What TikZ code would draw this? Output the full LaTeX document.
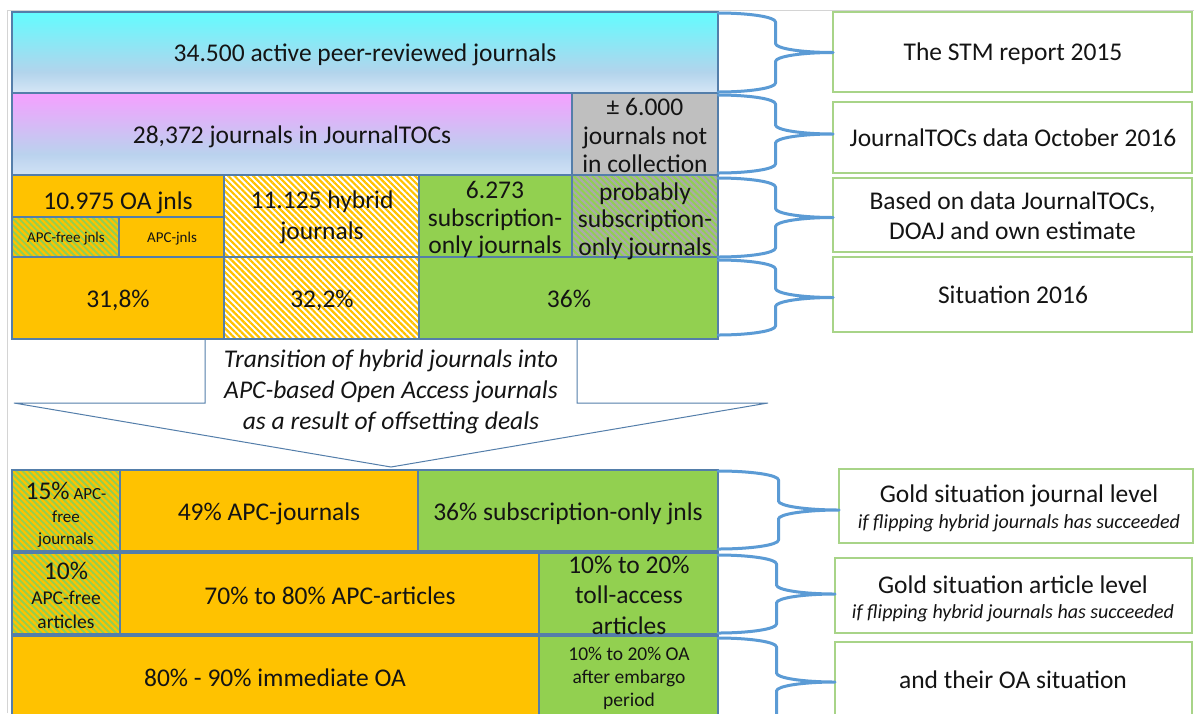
\documentclass[tikz,border=0pt]{standalone}
\usepackage{fontspec}
\setmainfont{Carlito}
\usetikzlibrary{patterns.meta,calc}

\definecolor{gold}{RGB}{255,194,0}
\definecolor{grn}{RGB}{146,208,80}
\definecolor{gry}{RGB}{191,191,191}
\definecolor{stripgry}{RGB}{170,170,170}
\definecolor{cellb}{RGB}{84,126,170}
\definecolor{brcol}{RGB}{91,155,213}
\definecolor{boxb}{RGB}{168,212,136}
\definecolor{frm}{RGB}{212,212,212}
\definecolor{txt}{RGB}{20,20,20}
\definecolor{cyanT}{RGB}{99,252,255}
\definecolor{cyanM}{RGB}{178,212,236}
\definecolor{cyanB}{RGB}{214,230,246}
\definecolor{pinkT}{RGB}{245,160,255}
\definecolor{pinkM}{RGB}{186,210,238}
\definecolor{pinkB}{RGB}{208,226,245}

\pgfdeclareverticalshading{cyanshade}{100bp}{color(0bp)=(cyanB); color(25bp)=(cyanB); color(38bp)=(cyanM); color(75bp)=(cyanT); color(100bp)=(cyanT)}
\pgfdeclareverticalshading{pinkshade}{100bp}{color(0bp)=(pinkB); color(25bp)=(pinkB); color(38bp)=(pinkM); color(75bp)=(pinkT); color(100bp)=(pinkT)}

\tikzset{
  cell/.style={draw=cellb, line width=1.1pt, inner sep=0pt, outer sep=0pt, anchor=north west},
  tbox/.style={draw=boxb, line width=1.5pt, fill=white, inner sep=0pt, outer sep=0pt, anchor=north west},
  lbl/.style={text=txt, inner sep=0pt, outer sep=0pt, align=center, font=\fontsize{25.5}{28.5}\selectfont},
  one/.style={text height=16.4pt, text depth=0pt},
  onesm/.style={text height=9.7pt, text depth=0pt},
  brc/.style={draw=brcol, line width=3pt, line cap=round, line join=round},
  hatch/.style 2 args={preaction={fill=#1}, pattern={Lines[angle=-45,distance=4.4pt,line width=2.2pt]}, pattern color=#2},
  callout/.style={draw=cellb, line width=1pt, fill=white, line join=miter},
}

% right brace from top point #1 to bottom point #2, tip touching #3
\newcommand{\rbr}[3]{%
  \draw[brc] let \p1=(#1), \p2=(#2), \p3=(#3), \n1={(\x3-\x1)/2}, \n2={(\y1+\y2)/2}, \n3={9pt} in
    (\x1,\y1) .. controls (\x1+0.552*\n1,\y1) and (\x1+\n1,\y1-0.448*\n3) .. (\x1+\n1,\y1-\n3)
    -- (\x1+\n1,\n2+\n3) .. controls (\x1+\n1,\n2+0.448*\n3) and (\x1+1.448*\n1,\n2) .. (\x3,\n2)
    .. controls (\x1+1.448*\n1,\n2) and (\x1+\n1,\n2-0.448*\n3) .. (\x1+\n1,\n2-\n3)
    -- (\x1+\n1,\y2+\n3) .. controls (\x1+\n1,\y2+0.448*\n3) and (\x1+0.552*\n1,\y2) .. (\x1,\y2);}

\begin{document}
\begin{tikzpicture}[x=1pt,y=-1pt]
\useasboundingbox (0,0) rectangle (1194,713);
\fill[white] (0,0) rectangle (1194,713);
\clip (0,0) rectangle (1194,713);

% slide frame
\draw[frm, line width=1pt] (7,713) -- (7,10.5) -- (1194,10.5);

% transition callout (drawn below the rows)
\draw[callout] (205,339) -- (577,339) -- (577,403) -- (768,403) -- (391,467) -- (14,403) -- (205,403) -- cycle;
\node[lbl, font=\itshape\fontsize{25.5}{31}\selectfont] (trans) at (391,391.5)
  {Transition of hybrid journals into\\APC-based Open Access journals\\as a result of offsetting deals};

% ---------- upper block ----------
\node[cell, shading=cyanshade, minimum width=706pt, minimum height=81pt] (t1) at (12,12) {};
\node[cell, shading=pinkshade, minimum width=560pt, minimum height=82pt] (t2a) at (12,93) {};
\node[cell, fill=gry, minimum width=146pt, minimum height=82pt] (t2b) at (572,93) {};

\node[cell, fill=gold, minimum width=212pt, minimum height=42pt] (oa) at (12,175) {};
\node[cell, hatch={grn}{gold}, minimum width=107pt, minimum height=40pt] (apcfree) at (12,217) {};
\node[cell, fill=gold, minimum width=105pt, minimum height=40pt] (apcj) at (119,217) {};
\node[cell, hatch={white}{gold}, minimum width=195pt, minimum height=82pt] (hyb) at (224,175) {};
\node[cell, fill=grn, minimum width=153pt, minimum height=82pt] (sub) at (419,175) {};
\node[cell, hatch={grn}{stripgry}, minimum width=146pt, minimum height=82pt] (prob) at (572,175) {};

\node[cell, fill=gold, minimum width=212pt, minimum height=82pt] (p1) at (12,257) {};
\node[cell, hatch={white}{gold}, minimum width=195pt, minimum height=82pt] (p2) at (224,257) {};
\node[cell, fill=grn, minimum width=299pt, minimum height=82pt] (p3) at (419,257) {};

\node[lbl, one] (t1l) at (365,53) {34.500 active peer-reviewed journals};
\node[lbl, one] (t2al) at (292,135) {28,372 journals in JournalTOCs};
\node[lbl] (t2bl) at (645,135.5) {± 6.000\\journals not\\in collection};
\node[lbl, one] (oal) at (118,201) {10.975 OA jnls};
\node[lbl, onesm, font=\fontsize{15}{18}\selectfont] (apcfreel) at (66,237.5) {APC-free jnls};
\node[lbl, onesm, font=\fontsize{15}{18}\selectfont] (apcjl) at (172,237.5) {APC-jnls};
\node[lbl, font=\fontsize{25.5}{31}\selectfont] (hybl) at (322,217.5) {11.125 hybrid\\journals};
\node[lbl, font=\fontsize{25.5}{27.5}\selectfont] (subl) at (495,220) {6.273\\subscription-\\only journals};
\node[lbl, font=\fontsize{25.5}{27.5}\selectfont] (probl) at (645,221) {probably\\subscription-\\only journals};
\node[lbl, one] (p1l) at (118,299.5) {31,8\%};
\node[lbl, one] (p2l) at (322,299.5) {32,2\%};
\node[lbl, one] (p3l) at (569,299.5) {36\%};

% ---------- lower block ----------
\node[cell, hatch={grn}{gold}, minimum width=108pt, minimum height=81pt] (b15) at (12,470) {};
\node[cell, fill=gold, minimum width=298pt, minimum height=81pt] (b49) at (120,470) {};
\node[cell, fill=grn, minimum width=300pt, minimum height=81pt] (b36) at (418,470) {};

\node[cell, hatch={grn}{gold}, minimum width=108pt, minimum height=81pt] (c10) at (12,553) {};
\node[cell, fill=gold, minimum width=419pt, minimum height=81pt] (c70) at (120,553) {};
\node[cell, fill=grn, minimum width=179pt, minimum height=81pt] (ctoll) at (539,553) {};

\node[cell, fill=gold, minimum width=527pt, minimum height=90pt] (d80) at (12,636) {};
\node[cell, fill=grn, minimum width=179pt, minimum height=90pt] (doa) at (539,636) {};

\node[lbl, font=\fontsize{17}{22.5}\selectfont] (b15l) at (66,515)
  {{\fontsize{25.5}{22.5}\selectfont 15\%} APC-\\free\\journals};
\node[lbl, one] (b49l) at (269,512) {49\% APC-journals};
\node[lbl, one] (b36l) at (568,512) {36\% subscription-only jnls};
\node[lbl, font=\fontsize{19.5}{24.5}\selectfont] (c10l) at (66,595.5)
  {{\fontsize{25.5}{24.5}\selectfont 10\%}\\APC-free\\articles};
\node[lbl, one] (c70l) at (330,596) {70\% to 80\% APC-articles};
\node[lbl, font=\fontsize{25.5}{30.5}\selectfont] (ctolll) at (629,595) {10\% to 20\%\\toll-access\\articles};
\node[lbl, one] (d80l) at (275,678) {80\% - 90\% immediate OA};
\node[lbl, font=\fontsize{19.5}{23}\selectfont] (doal) at (629,678) {10\% to 20\% OA\\after embargo\\period};

% ---------- explanation boxes ----------
\node[tbox, minimum width=359pt, minimum height=80pt] (r1) at (833,12) {};
\node[tbox, minimum width=359pt, minimum height=71pt] (r2) at (833,102) {};
\node[tbox, minimum width=359pt, minimum height=74pt] (r3) at (833,178) {};
\node[tbox, minimum width=359pt, minimum height=75pt] (r4) at (833,257) {};
\node[tbox, minimum width=354pt, minimum height=74pt] (r5) at (839,469) {};
\node[tbox, minimum width=357pt, minimum height=75pt] (r6) at (835,558) {};
\node[tbox, minimum width=357pt, minimum height=80pt] (r7) at (835,642) {};

\node[lbl, one] (r1l) at (1013,52) {The STM report 2015};
\node[lbl, one] (r2l) at (1013,138) {JournalTOCs data October 2016};
\node[lbl, font=\fontsize{25.5}{30}\selectfont] (r3l) at (1012.5,215.5) {Based on data JournalTOCs,\\DOAJ and own estimate};
\node[lbl, one] (r4l) at (1013,295) {Situation 2016};
\node[lbl, font=\fontsize{25.5}{26}\selectfont] (r5l) at (1019,508)
  {Gold situation journal level\\{\itshape\fontsize{20}{26}\selectfont if flipping hybrid journals has succeeded}};
\node[lbl, font=\fontsize{25.5}{25}\selectfont] (r6l) at (1013,599)
  {Gold situation article level\\{\itshape\fontsize{20}{25}\selectfont if flipping hybrid journals has succeeded}};
\node[lbl, one] (r7l) at (1013,680) {and their OA situation};

% ---------- braces ----------
\rbr{[yshift=-1pt]t1.north east}{[yshift=1pt]t1.south east}{r1.west}
\rbr{[yshift=-2pt]t2b.north east}{[yshift=2pt]t2b.south east}{r2.west}
\rbr{[yshift=-3pt]prob.north east}{[yshift=0pt]prob.south east}{r3.west}
\rbr{[yshift=-3pt]p3.north east}{[yshift=4pt]p3.south east}{r4.west}
\rbr{[yshift=-1pt]b36.north east}{[yshift=2pt]b36.south east}{r5.west}
\rbr{[yshift=-2pt]ctoll.north east}{[yshift=1pt]ctoll.south east}{r6.west}
\rbr{[yshift=-2pt]doa.north east}{[yshift=0pt]doa.south east}{r7.west}
\end{tikzpicture}
\end{document}
